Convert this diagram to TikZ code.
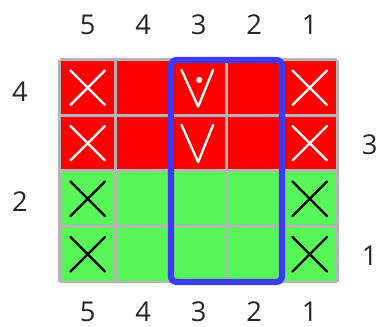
\documentclass[tikz,border=0pt]{standalone}
\usepackage{fontspec}
\setsansfont{Open Sans}
\usepackage{tikz}
\usetikzlibrary{positioning,calc}

\definecolor{cellred}{HTML}{FF0000}
\definecolor{cellgreen}{HTML}{58F558}
\definecolor{gridgray}{HTML}{B4B4B4}
\definecolor{boxblue}{HTML}{3C3CF5}

\begin{document}
\begin{tikzpicture}[
  y=-1cm,
  lbl/.style={font=\sffamily\fontsize{14}{16}\selectfont, text=black!85,
              inner sep=0pt},
  gridline/.style={gridgray, line width=1.5pt},
  cross/.style={line width=1.2pt, line cap=round},
  vee/.style={white, line width=1.2pt, line cap=round, line join=round},
  frame/.style={boxblue, line width=3.2pt, rounded corners=3pt},
]
  \useasboundingbox (-1.08,-1.08) rectangle (5.82,4.81);

  %% board: red top half, green bottom half
  \fill[cellred]   (0,0) rectangle (5,2);
  \fill[cellgreen] (0,2) rectangle (5,4);
  \foreach \i in {0,...,5}
    \draw[gridline] (\i,0) -- (\i,4);
  \foreach \j in {0,...,4}
    \draw[gridline] (0,\j) -- (5,\j);

  %% crosses in outer columns
  \foreach \c in {0,4}
    \foreach \r/\col in {0/white,1/white,2/black,3/black}
      \draw[cross,\col] (\c+.19,\r+.19) -- (\c+.81,\r+.81)
                        (\c+.19,\r+.81) -- (\c+.81,\r+.19);

  %% V marks in column 3
  \draw[vee] (2.19,.18) -- (2.49,.84) -- (2.76,.18);
  \draw[vee] (2.19,1.17) -- (2.49,1.84) -- (2.76,1.17);
  \fill[white] (2.51,.36) circle (.055);

  %% highlighted columns
  \draw[frame] (2,0) rectangle (4,4);

  %% column labels, top and bottom
  \foreach \n [count=\i from 0] in {5,4,3,2,1} {
    \node[lbl] (top\n) at (\i+.5,-.63) {\n};
    \node[lbl] (bot\n) at (\i+.5,4.54) {\n};
  }

  %% row labels
  \node[lbl] (left4)  at (-.72,.57)  {4};
  \node[lbl] (left2)  at (-.72,2.56) {2};
  \node[lbl] (right3) at (5.58,1.53) {3};
  \node[lbl] (right1) at (5.58,3.53) {1};
\end{tikzpicture}
\end{document}
